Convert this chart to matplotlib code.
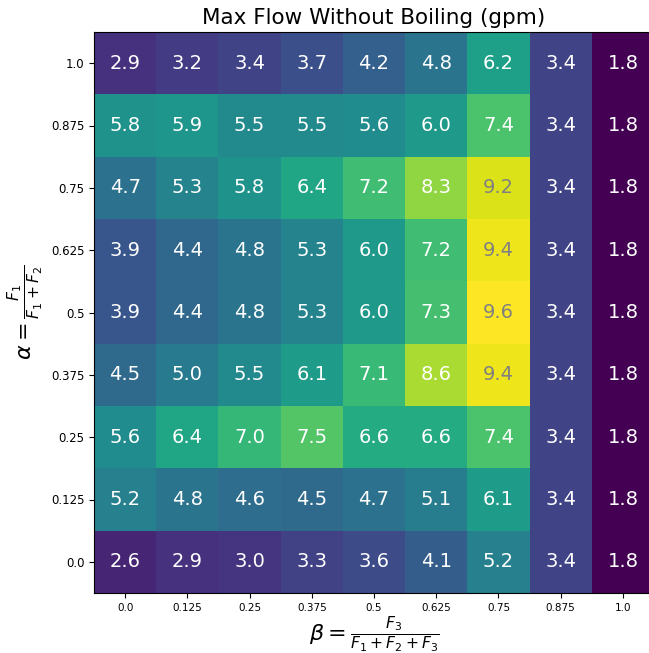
import matplotlib
matplotlib.use('Agg')
import matplotlib.pyplot as plt
import numpy as np

alpha_labels = ['0.0', '0.125', '0.25', '0.375', '0.5', '0.625', '0.75', '0.875', '1.0']
beta_labels = ['0.0', '0.125', '0.25', '0.375', '0.5', '0.625', '0.75', '0.875', '1.0']

# rows from alpha = 0.0 (bottom) up to alpha = 1.0 (top)
flow_a000 = [2.6, 2.9, 3.0, 3.3, 3.6, 4.1, 5.2, 3.4, 1.8]
flow_a125 = [5.2, 4.8, 4.6, 4.5, 4.7, 5.1, 6.1, 3.4, 1.8]
flow_a250 = [5.6, 6.4, 7.0, 7.5, 6.6, 6.6, 7.4, 3.4, 1.8]
flow_a375 = [4.5, 5.0, 5.5, 6.1, 7.1, 8.6, 9.4, 3.4, 1.8]
flow_a500 = [3.9, 4.4, 4.8, 5.3, 6.0, 7.3, 9.6, 3.4, 1.8]
flow_a625 = [3.9, 4.4, 4.8, 5.3, 6.0, 7.2, 9.4, 3.4, 1.8]
flow_a750 = [4.7, 5.3, 5.8, 6.4, 7.2, 8.3, 9.2, 3.4, 1.8]
flow_a875 = [5.8, 5.9, 5.5, 5.5, 5.6, 6.0, 7.4, 3.4, 1.8]
flow_a1000 = [2.9, 3.2, 3.4, 3.7, 4.2, 4.8, 6.2, 3.4, 1.8]


def main():
    grid = np.array([flow_a000, flow_a125, flow_a250, flow_a375, flow_a500,
                     flow_a625, flow_a750, flow_a875, flow_a1000])

    fig = plt.figure(figsize=(6.49, 6.53), dpi=100)
    ax = fig.add_axes([94 / 649, 60 / 653, 560 / 649, 561 / 653])
    ax.imshow(grid, cmap='viridis', origin='lower', aspect='auto')

    for i in range(grid.shape[0]):
        for j in range(grid.shape[1]):
            v = grid[i, j]
            ax.text(j, i, f'{v:.1f}', ha='center', va='center', fontsize=14,
                    color='gray' if v > 9 else 'w')

    ax.set_xticks(range(len(beta_labels)))
    ax.set_xticklabels(beta_labels, fontsize=7.5)
    ax.set_yticks(range(len(alpha_labels)))
    ax.set_yticklabels(alpha_labels, fontsize=8.5)
    ax.set_xlabel(r'$\beta = \frac{F_3}{F_1 + F_2 + F_3}$', fontsize=16, labelpad=1)
    ax.set_ylabel(r'$\alpha = \frac{F_1}{F_1 + F_2}$', fontsize=16)
    ax.set_title('Max Flow Without Boiling (gpm)', fontsize=15.5)

    fig.savefig('out.png', dpi=100)


if __name__ == '__main__':
    main()
